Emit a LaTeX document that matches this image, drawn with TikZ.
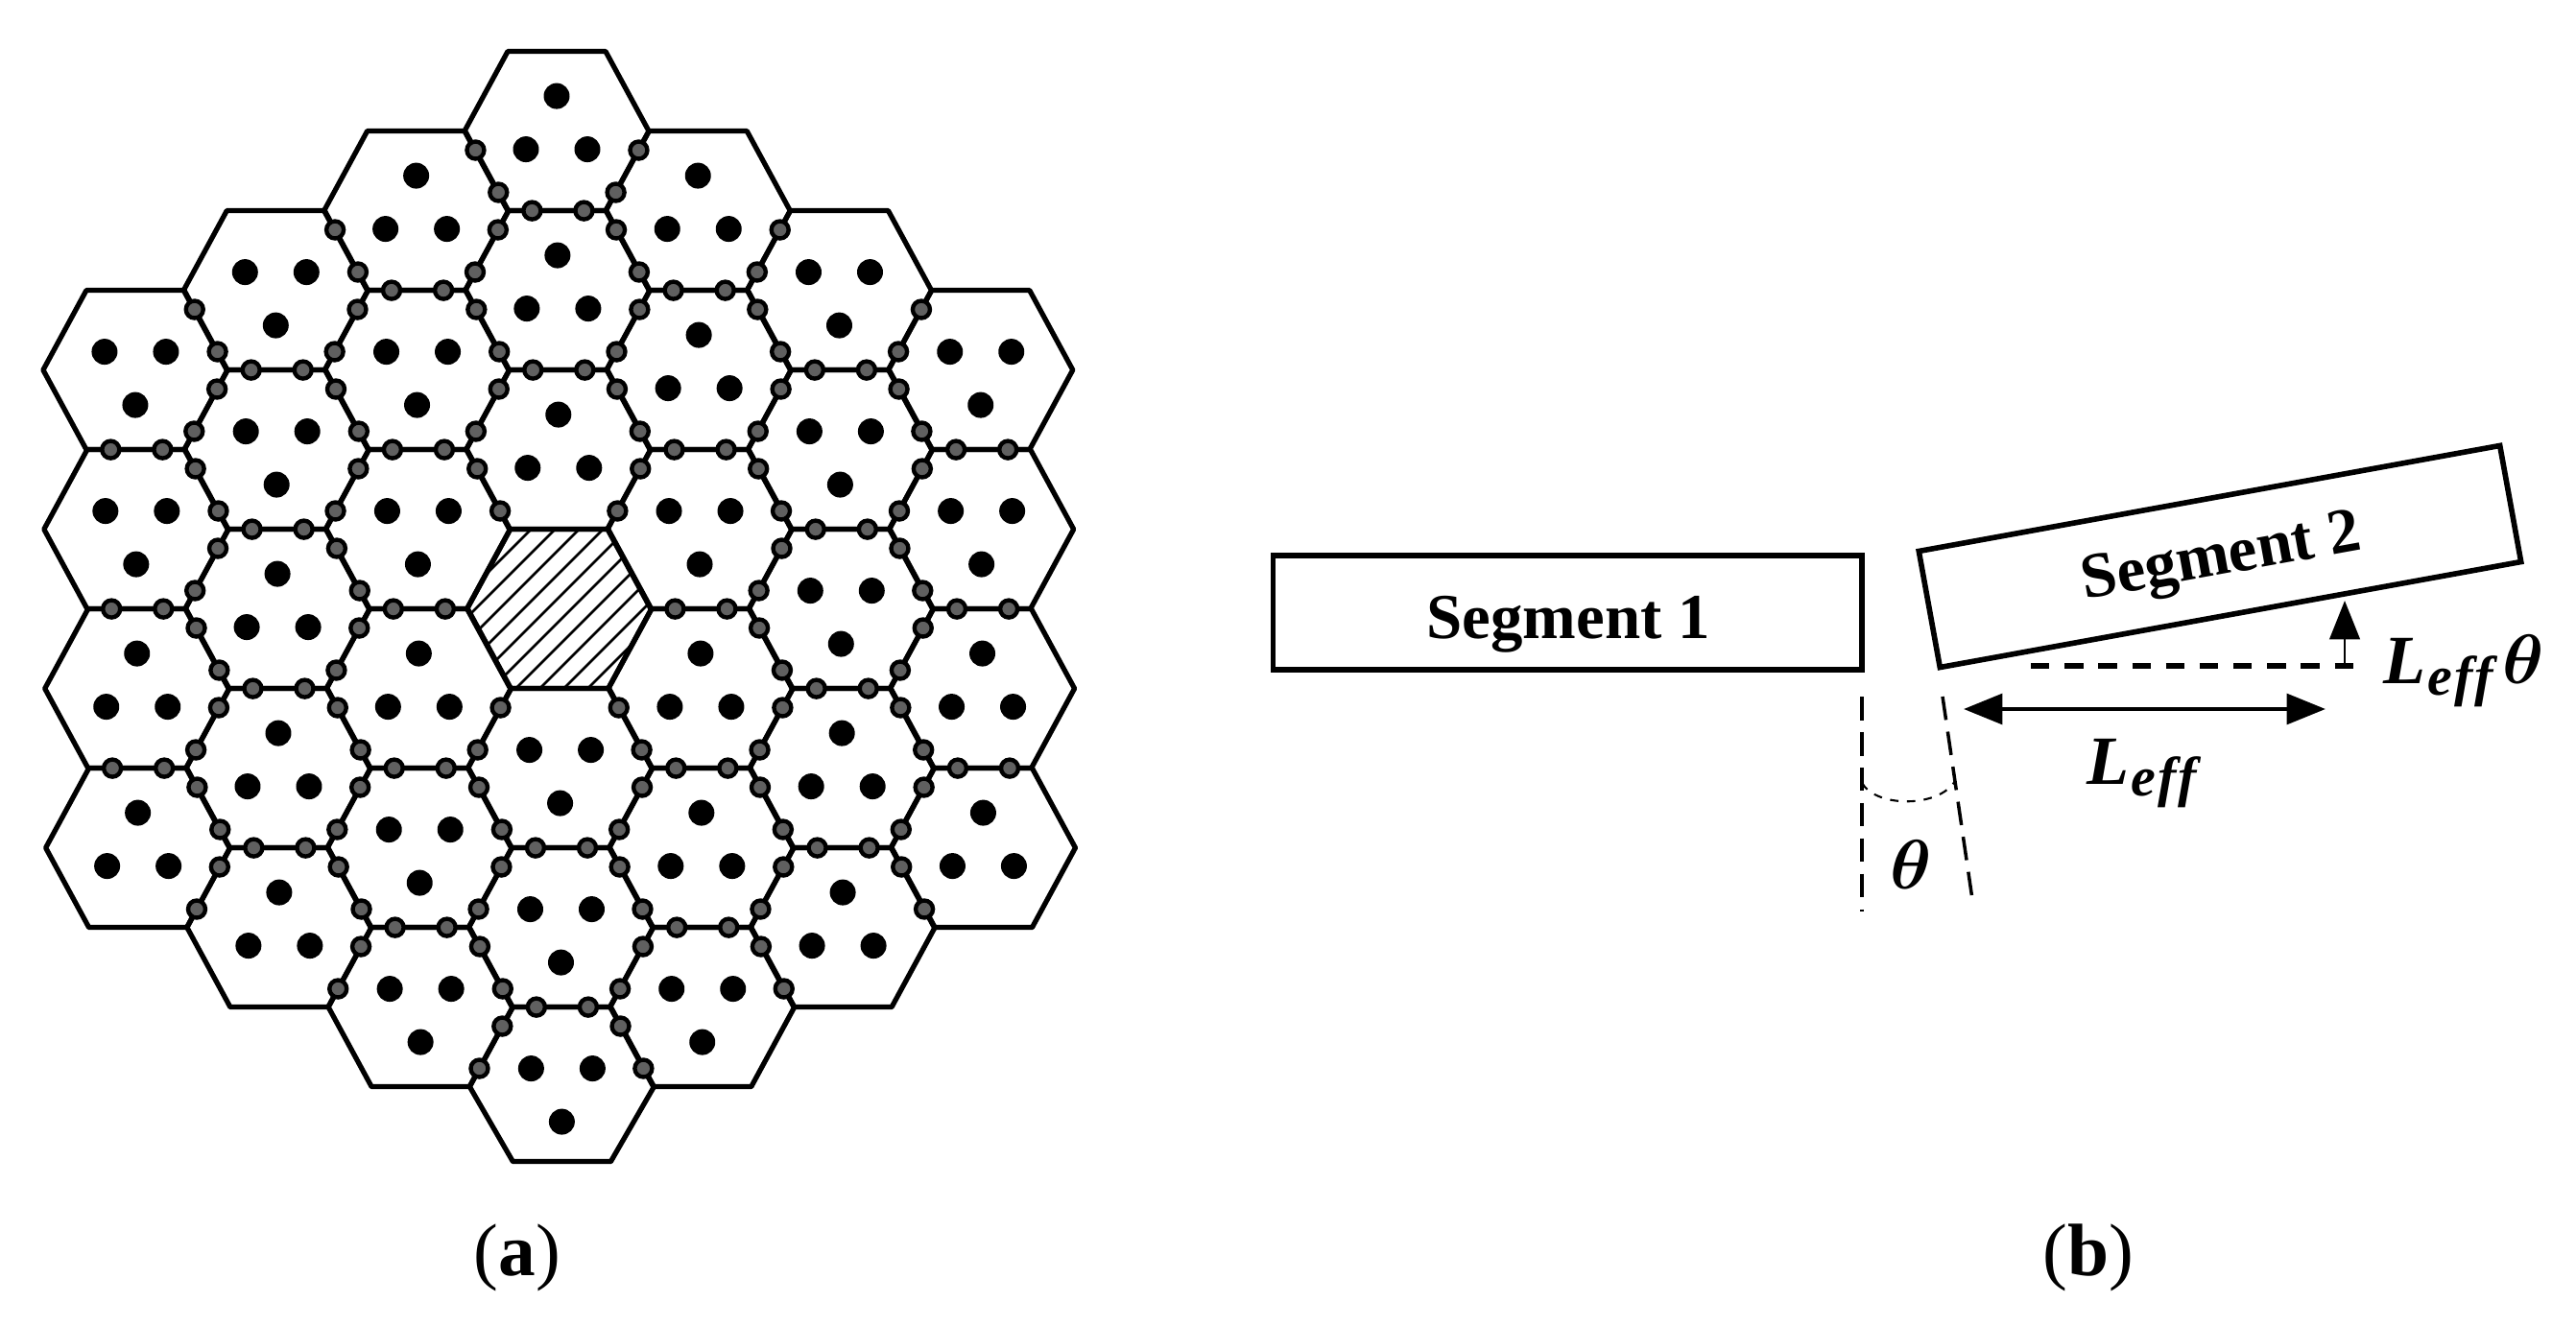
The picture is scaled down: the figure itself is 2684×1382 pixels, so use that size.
\documentclass[tikz,border=0pt]{standalone}
\usepackage{amsmath,amssymb}
\usepackage{fontspec}
\setmainfont{Liberation Serif}
\usetikzlibrary{calc,positioning,arrows.meta}
\tikzset{>={Triangle[length=11.5pt,width=9pt]}}
\tikzset{
  cellline/.style={line width=1.5pt,line join=round},
  hatchline/.style={line width=0.8pt},
  bead/.style={draw=black,fill=gray!75!black,line width=1.25pt},
  segbox/.style={draw,line width=1.6pt,inner sep=0pt},
  seglabel/.style={inner sep=0pt,font=\fontsize{19}{20}\selectfont\bfseries},
  symlabel/.style={inner sep=0pt,font=\fontsize{20.5}{22}\selectfont\bfseries\itshape\mathversion{bold}},
  caplabel/.style={inner sep=0pt,anchor=base,font=\fontsize{22}{24}\selectfont},
  gapline/.style={dashed,dash pattern=on 7pt off 3.5pt,line width=1pt},
}
\newcommand{\beadpair}[2]{
\draw[bead] ($(#1)!.24!(#2)$) circle [radius=9];
\draw[bead] ($(#1)!.77!(#2)$) circle [radius=9];
}
\newcommand{\leffsym}{L\kern0.5pt\raisebox{-3.5pt}{\fontsize{16.5}{18}\selectfont e\kern0.5pt f\kern0.5pt f}}
\begin{document}
\begin{tikzpicture}[x=0.01cm,y=-0.01cm]
\useasboundingbox (0,0) rectangle (2684,1382);
% cells, column by column: -1 one dot on top, 1 one dot below, 0 hatched
\foreach \k/\cells in {-3/{1,1,-1,-1},-2/{1,1,-1,-1,-1},-1/{-1,1,1,-1,1,1},0/{-1,-1,-1,0,1,1,1},1/{-1,-1,1,-1,-1,1},2/{1,1,1,-1,-1},3/{1,1,-1,-1}}{
\foreach \s [count=\r from 0] in \cells {
\pgfmathsetmacro\cy{136.6+83*abs(\k)+166*\r}
\pgfmathsetmacro\cx{580+146.8*\k+(\cy-136)*0.0054}
\pgfmathsetmacro\hb{(\k==0 && \r==6) ? 78 : 83}
\coordinate (c\k-\r-ul) at (\cx-51,\cy-83);
\coordinate (c\k-\r-ur) at (\cx+51,\cy-83);
\coordinate (c\k-\r-r) at (\cx+96,\cy);
\coordinate (c\k-\r-lr) at (\cx+51,\cy+\hb);
\coordinate (c\k-\r-ll) at (\cx-51,\cy+\hb);
\coordinate (c\k-\r-l) at (\cx-96,\cy);
\draw[cellline] (c\k-\r-ul)--(c\k-\r-ur)--(c\k-\r-r)--(c\k-\r-lr)--(c\k-\r-ll)--(c\k-\r-l)--cycle;
\ifnum\s=0\else
\fill (\cx,\cy+\s*36.5) circle [radius=13.5];
\fill (\cx-32,\cy-\s*19) circle [radius=13.5];
\fill (\cx+32,\cy-\s*19) circle [radius=13.5];
\fi
};
};
% hatched cell
\begin{scope}
\clip (c0-3-ul)--(c0-3-ur)--(c0-3-r)--(c0-3-lr)--(c0-3-ll)--(c0-3-l)--cycle;
\foreach \i in {0,...,9}{
\draw[hatchline] ({1105+25*\i-440},440)--({1105+25*\i-760},760);
};
\end{scope}
% beads on the shared edges
\foreach \k/\n in {-3/3,-2/4,-1/5,0/6,1/5,2/4,3/3}{
\foreach \r in {0,...,\n}{
\pgfmathtruncatemacro\skiph{(\k==0 && (\r==3 || \r==4)) ? 1 : 0}
\pgfmathtruncatemacro\skipup{(abs(\k)==1 && \r==3) ? 1 : 0}
\pgfmathtruncatemacro\skipdn{(abs(\k)==1 && \r==2) ? 1 : 0}
\ifnum\r>0 \ifnum\skiph=0 \beadpair{c\k-\r-ul}{c\k-\r-ur} \fi\fi
\ifnum\k<0
\ifnum\skipup=0 \beadpair{c\k-\r-ur}{c\k-\r-r} \fi
\ifnum\skipdn=0 \beadpair{c\k-\r-r}{c\k-\r-lr} \fi
\fi
\ifnum\k>0
\ifnum\skipup=0 \beadpair{c\k-\r-ul}{c\k-\r-l} \fi
\ifnum\skipdn=0 \beadpair{c\k-\r-l}{c\k-\r-ll} \fi
\fi
};
};
\node[caplabel] (capa) at (539,1329) {(\textbf{a})};
% segments
\node[segbox,minimum width=6.13cm,minimum height=1.19cm] (seg1) at (1633,638.5) {};
\node[seglabel] (seg1txt) at (1634,651) {Segment 1};
\node[segbox,minimum width=6.15cm,minimum height=1.23cm,rotate=10.3] (seg2) at (2313,580) {};
\node[seglabel,rotate=10.3] (seg2txt) at (2315,584) {Segment 2};
\coordinate (dashl) at (2116,694);
\coordinate (dashr) at (2452,694);
\coordinate (upfoot) at (2443,694);
\coordinate (uptip) at (2443,626);
\coordinate (spanl) at (2046,739);
\coordinate (spanr) at (2423,739);
\coordinate (gapa) at (1940,726);
\coordinate (gapb) at (1940,950);
\coordinate (gapc) at (2024,726);
\coordinate (gapd) at (2056,944);
\coordinate (arcl) at (1940,816);
\coordinate (arcr) at (2037,814);
\draw[dashed,dash pattern=on 5.5pt off 4.5pt,line width=1.5pt] (dashl)--(dashr);
\draw[->,line width=0.7pt] (upfoot)--(uptip);
\draw[<->,line width=1.2pt] (spanl)--(spanr);
\draw[gapline] (gapa)--(gapb);
\draw[gapline] (gapc)--(gapd);
\draw[dashed,dash pattern=on 2.5pt off 2.5pt,line width=0.6pt] (arcl) .. controls (1955,842) and (2020,842) .. (arcr);
\node[symlabel,anchor=base west] (lefftheta) at (2483,712) {\leffsym\kern3pt$\theta$};
\node[symlabel,anchor=base west] (leff) at (2174,817) {\leffsym};
\node[symlabel] (theta) at (1991,901) {$\theta$};
\node[caplabel] (capb) at (2176,1329) {(\textbf{b})};
\end{tikzpicture}
\end{document}
